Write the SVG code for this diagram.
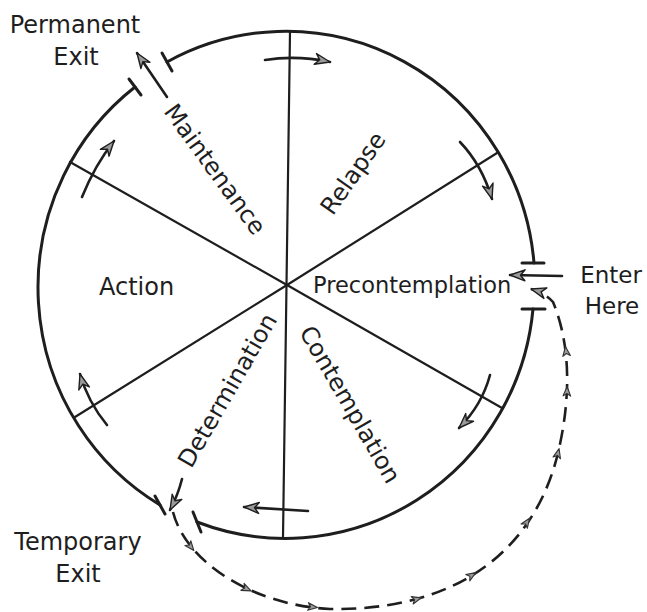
<svg xmlns="http://www.w3.org/2000/svg" width="647" height="612" viewBox="0 0 647 612">
<style>
  .rim { fill: none; stroke: #1e1e1e; stroke-width: 3; stroke-linecap: round; }
  .spoke { fill: none; stroke: #1e1e1e; stroke-width: 2.2; stroke-linecap: round; }
  .tick { fill: none; stroke: #1e1e1e; stroke-width: 3; stroke-linecap: round; }
  .arr { fill: none; stroke: #1e1e1e; stroke-width: 2.6; stroke-linecap: round; marker-end: url(#ah); }
  .dash { fill: none; stroke: #1e1e1e; stroke-width: 2.6; stroke-dasharray: 15 8; marker-end: url(#ah); }
  .lbl { font-family: "DejaVu Sans", "Liberation Sans", sans-serif; font-size: 24px; fill: #1e1e1e; }
  .rot { text-anchor: middle; }
</style>
<defs>
  <marker id="ah" viewBox="-17 -8 19 16" markerWidth="19" markerHeight="16" refX="0" refY="0" orient="auto" markerUnits="userSpaceOnUse">
    <path d="M0,0 L-15,-5.5 L-10.5,0 L-15,5.5 Z" fill="#9a9a9a" stroke="#1e1e1e" stroke-width="1.4" stroke-linejoin="round"/>
  </marker>
  <path id="sa" d="M4.5,0 L-5,-3.8 L-2.5,0 L-5,3.8 Z" fill="#9a9a9a" stroke="#333" stroke-width="1.1" stroke-linejoin="round"/>
</defs>

<g id="wheel">
  <path class="rim" d="M167,62 A249 253 0 0 1 534,263"/>
  <path class="rim" d="M533,309 A249 253 0 0 1 197,522"/>
  <path class="rim" d="M160,505 A249 253 0 0 1 135,87"/>
  <line class="tick" x1="162" y1="53" x2="172" y2="71"/>
  <line class="tick" x1="129" y1="79" x2="141" y2="95"/>
  <line class="tick" x1="522" y1="263" x2="544" y2="263"/>
  <line class="tick" x1="522" y1="309" x2="545" y2="309"/>
  <line class="tick" x1="155" y1="496" x2="165" y2="514"/>
  <line class="tick" x1="193" y1="512" x2="201" y2="532"/>
  <line class="spoke" x1="290" y1="32" x2="283" y2="537"/>
  <line class="spoke" x1="287" y1="285" x2="497" y2="153"/>
  <line class="spoke" x1="287" y1="285" x2="502" y2="408"/>
  <line class="spoke" x1="287" y1="285" x2="70" y2="162"/>
  <line class="spoke" x1="287" y1="285" x2="75" y2="417"/>
</g>

<g id="stage-precontemplation"><text class="lbl" x="313" y="293" style="font-size:22.5px">Precontemplation</text></g>
<g id="stage-contemplation"><text class="lbl rot" transform="translate(349,405) rotate(60)" y="7">Contemplation</text></g>
<g id="stage-determination"><text class="lbl rot" transform="translate(228.5,391) rotate(-60)" y="7">Determination</text></g>
<g id="stage-action"><text class="lbl" x="99" y="295">Action</text></g>
<g id="stage-maintenance"><text class="lbl rot" transform="translate(214,170) rotate(54)" y="7">Maintenance</text></g>
<g id="stage-relapse"><text class="lbl rot" transform="translate(354,174) rotate(-55)" y="7">Relapse</text></g>

<g id="enter-here"><text class="lbl rot" style="font-size:23px" x="611" y="283">Enter</text><text class="lbl rot" style="font-size:23px" x="612" y="314">Here</text></g>
<g id="permanent-exit"><text class="lbl rot" x="75" y="33">Permanent</text><text class="lbl rot" x="76" y="65">Exit</text></g>
<g id="temporary-exit"><text class="lbl rot" x="78" y="550">Temporary</text><text class="lbl rot" x="78" y="582">Exit</text></g>

<g id="connectors">
  <path class="arr" d="M265,60 Q297,55 330,62"/>
  <path class="arr" d="M460,142 Q482,165 492,199"/>
  <path class="arr" d="M490,375 Q482,405 459,428"/>
  <path class="arr" d="M308,511 Q275,509 244,507"/>
  <path class="arr" d="M107,425 Q88,402 80,374"/>
  <path class="arr" d="M82,197 Q95,165 114,141"/>
  <path class="arr" d="M167,97 L137,53"/>
  <path class="arr" d="M182,479 Q178,495 170,510"/>
  <path class="arr" d="M562,276 L510,275"/>
  <path class="dash" d="M173,512 C185,560 250,605 330,609 C460,611 535,548 558,453 C567,415 575,355 553,302 Q545,293 531,289"/>
  <use href="#sa" transform="translate(191,547) rotate(51)"/>
  <use href="#sa" transform="translate(247,589) rotate(25)"/>
  <use href="#sa" transform="translate(313,607) rotate(6)"/>
  <use href="#sa" transform="translate(417,599) rotate(-15)"/>
  <use href="#sa" transform="translate(472,575) rotate(-32)"/>
  <use href="#sa" transform="translate(527,522) rotate(-56)"/>
  <use href="#sa" transform="translate(558,453) rotate(-76)"/>
  <use href="#sa" transform="translate(567,391) rotate(-88)"/>
  <use href="#sa" transform="translate(566,351) rotate(-97)"/>
</g>
</svg>
